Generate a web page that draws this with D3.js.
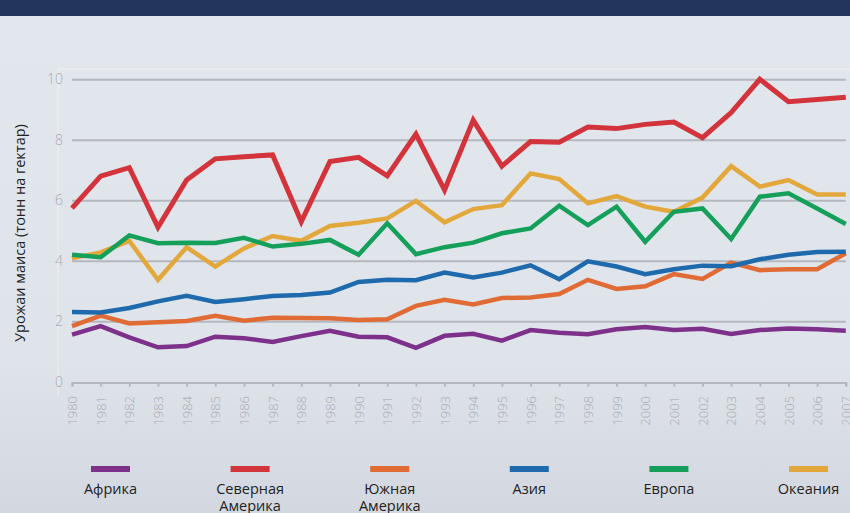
<!DOCTYPE html>
<html><head><meta charset="utf-8">
<script src="https://cdn.jsdelivr.net/npm/d3@7"></script>
<style>
html,body{margin:0;padding:0;background:#e2e7ee;}
svg{display:block;}
</style></head>
<body>
<svg id="chart" width="850" height="513"></svg>
<script>
const years = d3.range(1980, 2008);
const africa   = [1.56,1.84,1.47,1.14,1.18,1.49,1.44,1.32,1.51,1.69,1.49,1.47,1.12,1.52,1.59,1.36,1.71,1.62,1.57,1.74,1.81,1.71,1.75,1.58,1.71,1.76,1.74,1.69];
const nAmerica = [5.74,6.80,7.08,5.11,6.67,7.37,7.44,7.50,5.29,7.28,7.42,6.81,8.19,6.34,8.65,7.13,7.94,7.92,8.42,8.37,8.51,8.59,8.07,8.90,10.0,9.26,9.33,9.41];
const sAmerica = [1.84,2.19,1.93,1.97,2.01,2.18,2.02,2.12,2.11,2.10,2.04,2.07,2.51,2.71,2.56,2.77,2.79,2.90,3.37,3.07,3.16,3.56,3.40,3.94,3.69,3.72,3.72,4.25];
const asia     = [2.31,2.29,2.44,2.66,2.84,2.64,2.73,2.84,2.87,2.95,3.30,3.37,3.36,3.61,3.45,3.61,3.85,3.39,3.98,3.81,3.56,3.72,3.84,3.82,4.05,4.20,4.29,4.30];
const europe   = [4.20,4.12,4.84,4.58,4.60,4.59,4.76,4.47,4.56,4.69,4.20,5.24,4.22,4.45,4.60,4.91,5.07,5.82,5.18,5.79,4.63,5.62,5.73,4.72,6.12,6.23,5.73,5.22];
const oceania  = [4.08,4.28,4.66,3.37,4.45,3.81,4.41,4.82,4.66,5.15,5.26,5.40,5.98,5.27,5.71,5.84,6.89,6.70,5.90,6.14,5.79,5.62,6.09,7.13,6.45,6.67,6.19,6.19];
const seriesNames = ["Африка","Северная\nАмерика","Южная\nАмерика","Азия","Европа","Океания"];
const seriesColors = ["#7d318b","#d3333a","#e06b35","#1f6aac","#14a05a","#e3a83b"];
const yTicks = [0,2,4,6,8,10];
const yTitle = "Урожаи маиса (тонн на гектар)";

const seriesValues = [africa, nAmerica, sAmerica, asia, europe, oceania];
// draw order: back to front
const drawOrder = [0,2,3,5,4,1];

const svg = d3.select("#chart");
const W = 850, H = 513;

const defs = svg.append("defs");
const grad = defs.append("linearGradient").attr("id","bg").attr("x1",0).attr("y1",0).attr("x2",0).attr("y2",1);
grad.append("stop").attr("offset","0%").attr("stop-color","#e2e7ee");
grad.append("stop").attr("offset","70%").attr("stop-color","#dfe4eb");
grad.append("stop").attr("offset","100%").attr("stop-color","#d3d8e0");
svg.append("rect").attr("width",W).attr("height",H).attr("fill","url(#bg)");
svg.append("rect").attr("width",W).attr("height",16).attr("fill","#23355a");

const x = d3.scaleLinear().domain([1980,2007]).range([72,845.8]);
const y = d3.scaleLinear().domain([0,10]).range([381.8,79.3]);

// faint plot frame lines
svg.append("line").attr("x1",58).attr("x2",W).attr("y1",69).attr("y2",69).attr("stroke","#eef1f3").attr("stroke-width",1.5).attr("opacity",0.7);
svg.append("line").attr("x1",58).attr("x2",58).attr("y1",69).attr("y2",395).attr("stroke","#eef1f3").attr("stroke-width",1.5).attr("opacity",0.7);

// grid
const grid = svg.append("g")
  .attr("transform","translate(0,0)")
  .call(d3.axisLeft(y).tickValues(yTicks.filter(d=>d>0)).tickSize(-(845.8-72)).tickFormat(""));
grid.attr("transform","translate(72,0)");
grid.select(".domain").remove();
grid.selectAll("line").attr("stroke","#b4b8be").attr("stroke-width",2);

// y labels
const yAx = svg.append("g").attr("transform","translate(63,0)")
  .call(d3.axisLeft(y).tickValues(yTicks).tickSize(0).tickPadding(0));
yAx.select(".domain").remove();
yAx.selectAll("text").attr("fill","#a6aab1").style("font-family","'Open Sans', sans-serif").style("font-size","14px").style("font-weight","300");

// x axis
const xAx = svg.append("g").attr("transform","translate(0,382.5)")
  .call(d3.axisBottom(x).tickValues(years).tickSize(4).tickFormat(d3.format("d")));
xAx.select(".domain").attr("stroke","#b4b8be").attr("stroke-width",2);
xAx.selectAll(".tick line").attr("stroke","#b4b8be").attr("stroke-width",2);
xAx.selectAll("text")
  .attr("fill","#a6aab1")
  .style("font-family","'Open Sans', sans-serif").style("font-size","13px").style("font-weight","300")
  .attr("text-anchor","end")
  .attr("transform","rotate(-90)")
  .attr("x",-13.5).attr("y",0).attr("dy","0.35em");

// y title
svg.append("text")
  .attr("transform","translate(25,233) rotate(-90)")
  .attr("text-anchor","middle")
  .attr("fill","#222")
  .style("font-family","'Open Sans', sans-serif").style("font-size","14.5px")
  .text(yTitle);

// lines
const line = d3.line().x((d,i)=>x(years[i])).y(d=>y(d)).curve(d3.curveLinear);
drawOrder.forEach(k=>{
  svg.append("path").datum(seriesValues[k])
    .attr("d",line)
    .attr("fill","none")
    .attr("stroke",seriesColors[k])
    .attr("stroke-width", k===1 ? 5 : 4.5)
    .attr("stroke-linejoin","miter")
    .attr("stroke-miterlimit",3);
});

// legend
const lx = d3.scalePoint().domain(d3.range(6)).range([110.5,808.5]);
const leg = svg.append("g");
seriesNames.forEach((name,i)=>{
  const cx = lx(i);
  leg.append("rect").attr("x",cx-19.5).attr("y",466).attr("width",39).attr("height",6).attr("fill",seriesColors[i]);
  const t = leg.append("text").attr("text-anchor","middle").attr("fill","#222")
    .style("font-family","'Open Sans', sans-serif").style("font-size","14.5px");
  name.split("\n").forEach((ln,j)=>{
    t.append("tspan").attr("x",cx).attr("y",494+j*16.5).text(ln);
  });
});
</script>
</body></html>
